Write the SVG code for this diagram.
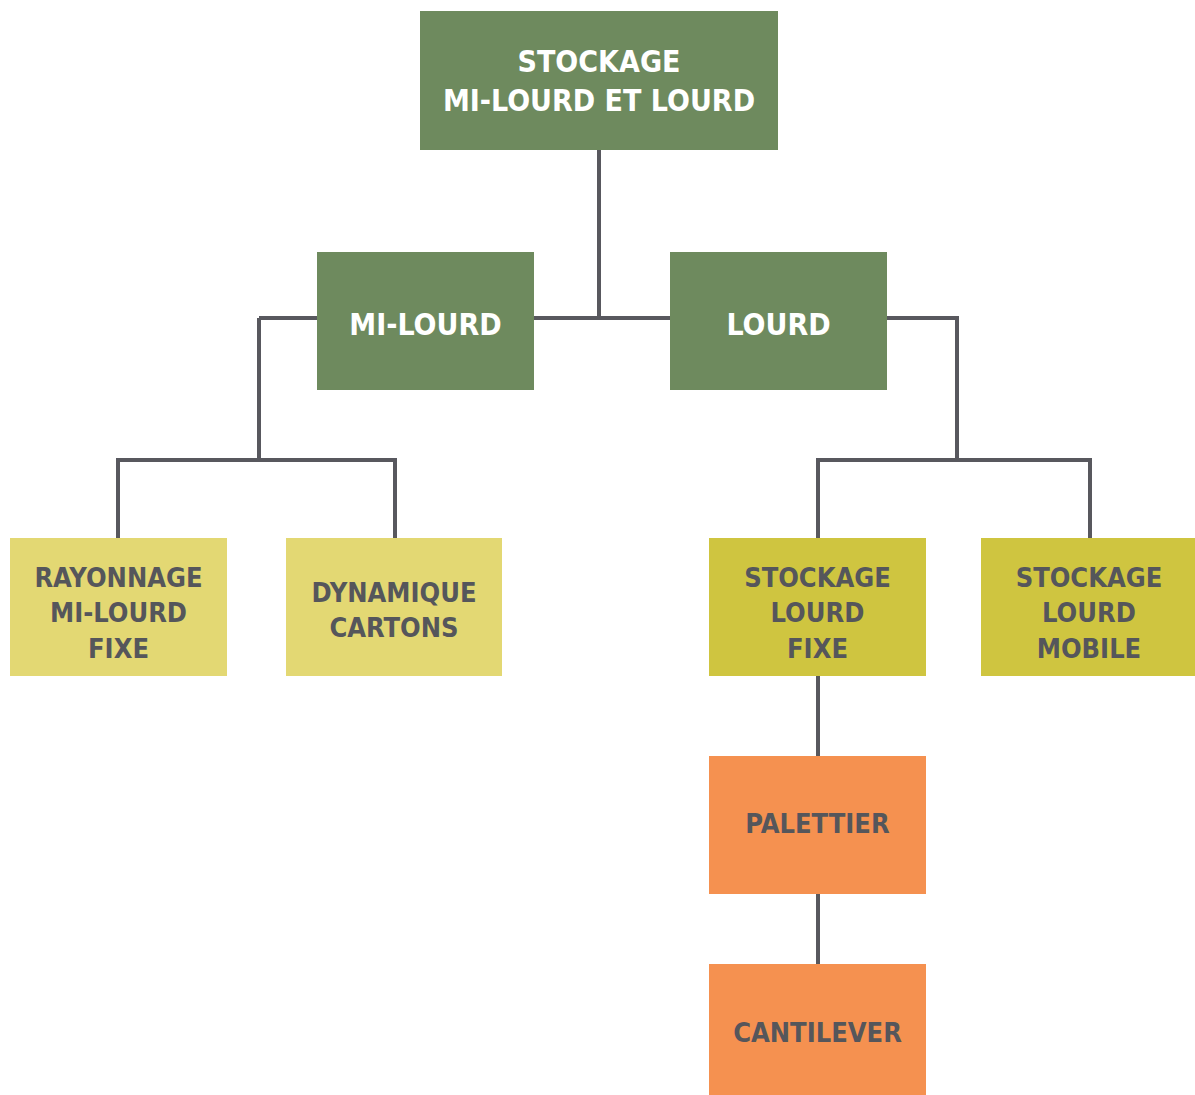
<svg xmlns="http://www.w3.org/2000/svg" width="1195" height="1095" viewBox="0 0 1195 1095">
<style>
text{font-family:"DejaVu Sans Condensed","DejaVu Sans",sans-serif;font-weight:bold;text-anchor:middle}
.w{fill:#ffffff;font-size:30px}
.g{fill:#55565b;font-size:27px}
.dg{fill:#6e8a5e}
.ly{fill:#e3d873}
.oy{fill:#cfc540}
.or{fill:#f59150}
.c{fill:none;stroke:#58585e;stroke-width:4}
</style>
<rect width="1195" height="1095" fill="#ffffff"/>
<g id="connectors">
<path class="c" d="M599 150V318M259 318H670M887 318H957V460M259 318V460M118 538V460H395V538M818 538V460H1090V538M818 676V756M818 894V964"/>
</g>
<g id="root"><rect class="dg" x="420" y="11" width="358" height="139"/><text class="w" x="599" y="72">STOCKAGE</text><text class="w" x="599" y="111">MI-LOURD ET LOURD</text></g>
<g id="mi-lourd"><rect class="dg" x="317" y="252" width="217" height="138"/><text class="w" x="425.5" y="335">MI-LOURD</text></g>
<g id="lourd"><rect class="dg" x="670" y="252" width="217" height="138"/><text class="w" x="778.5" y="335">LOURD</text></g>
<g id="rayonnage"><rect class="ly" x="10" y="538" width="217" height="138"/><text class="g" x="118.5" y="587">RAYONNAGE</text><text class="g" x="118.5" y="622">MI-LOURD</text><text class="g" x="118.5" y="658">FIXE</text></g>
<g id="dynamique"><rect class="ly" x="286" y="538" width="216" height="138"/><text class="g" x="394" y="602">DYNAMIQUE</text><text class="g" x="394" y="637">CARTONS</text></g>
<g id="lourd-fixe"><rect class="oy" x="709" y="538" width="217" height="138"/><text class="g" x="817.5" y="587">STOCKAGE</text><text class="g" x="817.5" y="622">LOURD</text><text class="g" x="817.5" y="658">FIXE</text></g>
<g id="lourd-mobile"><rect class="oy" x="981" y="538" width="214" height="138"/><text class="g" x="1089" y="587">STOCKAGE</text><text class="g" x="1089" y="622">LOURD</text><text class="g" x="1089" y="658">MOBILE</text></g>
<g id="palettier"><rect class="or" x="709" y="756" width="217" height="138"/><text class="g" x="817.5" y="833">PALETTIER</text></g>
<g id="cantilever"><rect class="or" x="709" y="964" width="217" height="131"/><text class="g" x="817.5" y="1042">CANTILEVER</text></g>
</svg>
